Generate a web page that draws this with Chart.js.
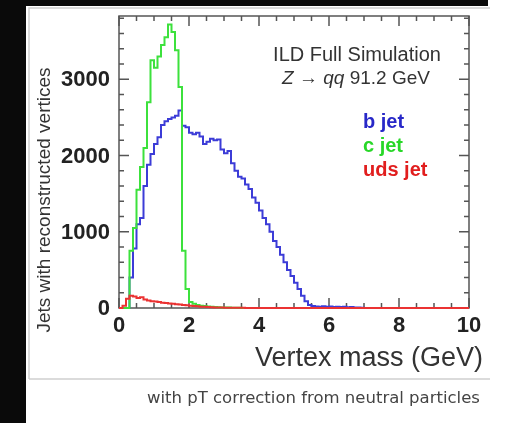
<!DOCTYPE html>
<html>
<head>
<meta charset="utf-8">
<script src="https://cdn.jsdelivr.net/npm/chart.js@4"></script>
<style>
  html, body { margin: 0; padding: 0; background: #fff; }
  #wrap { position: relative; width: 511px; height: 423px; }
</style>
</head>
<body>
<div id="wrap"><canvas id="myChart" width="511" height="423"></canvas></div>
<script>
// bin lower edges (GeV), 0.1 GeV wide, 0 to 10
const massBins = []
for (let i = 0; i < 100; i++) {
    massBins.push(i / 10)
}

const bJet = [
    0, 0, 0, 400, 780, 1100, 1180, 1600, 1880, 2020,
    2150, 2240, 2400, 2450, 2480, 2500, 2520, 2590, 2390, 2370,
    2300, 2280, 2300, 2250, 2150, 2180, 2220, 2200, 2210, 2080,
    2030, 2060, 1900, 1800, 1720, 1700, 1620, 1560, 1450, 1380,
    1280, 1180, 1100, 1000, 880, 800, 700, 600, 500, 420,
    330, 250, 160, 90, 40, 25, 20, 18, 22, 15,
    20, 14, 18, 12, 16, 10, 12, 8, 6, 3,
    0, 0, 0, 0, 0, 0, 0, 0, 0, 0,
    0, 0, 0, 0, 0, 0, 0, 0, 0, 0,
    0, 0, 0, 0, 0, 0, 0, 0, 0, 0
]

const cJet = [
    0, 0, 0, 750, 1050, 1550, 1850, 2100, 2700, 3250,
    3150, 3300, 3450, 3550, 3720, 3620, 3380, 2900, 750, 250,
    80, 55, 40, 30, 25, 20, 15, 12, 10, 8,
    6, 5, 4, 3, 2, 0, 0, 0, 0, 0,
    0, 0, 0, 0, 0, 0, 0, 0, 0, 0,
    0, 0, 0, 0, 0, 0, 0, 0, 0, 0,
    0, 0, 0, 0, 0, 0, 0, 0, 0, 0,
    0, 0, 0, 0, 0, 0, 0, 0, 0, 0,
    0, 0, 0, 0, 0, 0, 0, 0, 0, 0,
    0, 0, 0, 0, 0, 0, 0, 0, 0, 0
]

const udsJet = [
    0, 30, 120, 160, 150, 130, 140, 110, 100, 90,
    85, 80, 70, 65, 60, 55, 50, 45, 40, 35,
    30, 25, 22, 18, 15, 12, 10, 8, 6, 5,
    4, 3, 3, 2, 2, 2, 1, 1, 1, 1,
    0, 0, 0, 0, 0, 0, 0, 0, 0, 0,
    0, 0, 0, 0, 0, 0, 0, 0, 0, 0,
    0, 0, 0, 0, 0, 0, 0, 0, 0, 0,
    0, 0, 0, 0, 0, 0, 0, 0, 0, 0,
    0, 0, 0, 0, 0, 0, 0, 0, 0, 0,
    0, 0, 0, 0, 0, 0, 0, 0, 0, 0
]

const xTicks = [0, 2, 4, 6, 8, 10]
const yTicks = [0, 1000, 2000, 3000]
const xMinorStep = 0.5
const yMinorStep = 200

const legendNames = ['b jet', 'c jet', 'uds jet']
const colors = ['rgb(60, 60, 215)', 'rgb(60, 225, 60)', 'rgb(235, 50, 50)']
const legendColors = ['rgb(40, 40, 200)', 'rgb(40, 215, 40)', 'rgb(225, 30, 30)']

// histogram as step line: value at each lower edge, closed at x = 10
function histo(values) {
    const pts = massBins.map((x, i) => ({ x: x, y: values[i] }))
    pts.push({ x: 10, y: 0 })
    return pts
}

const FONT = '"Liberation Sans", Arial, sans-serif'

const data = {
    datasets: [
        { label: legendNames[0], data: histo(bJet), borderColor: colors[0], order: 2 },
        { label: legendNames[1], data: histo(cJet), borderColor: colors[1], order: 1 },
        { label: legendNames[2], data: histo(udsJet), borderColor: colors[2], order: 0 }
    ].map(d => Object.assign(d, {
        stepped: true,
        borderWidth: 2,
        pointRadius: 0,
        fill: false,
        clip: false
    }))
}

const pageBits = {
    id: 'page_bits',
    beforeDraw: (chart) => {
        const ctx = chart.ctx
        ctx.save()
        ctx.fillStyle = '#fff'
        ctx.fillRect(0, 0, chart.width, chart.height)
        ctx.fillStyle = 'rgb(10, 10, 10)'
        ctx.fillRect(0, 0, 26, chart.height)
        ctx.fillRect(0, 0, 488, 6)
        // thin grey box round the figure
        ctx.strokeStyle = '#cfcfcf'
        ctx.lineWidth = 1.5
        ctx.beginPath()
        ctx.moveTo(29, 379)
        ctx.lineTo(29, 8)
        ctx.lineTo(490, 8)
        ctx.moveTo(29, 379)
        ctx.lineTo(490, 379)
        ctx.stroke()
        ctx.restore()
    },
    beforeDatasetsDraw: (chart) => {
        const ctx = chart.ctx
        const { left, right, top, bottom } = chart.chartArea
        const xs = chart.scales.x
        const ys = chart.scales.y
        ctx.save()
        ctx.strokeStyle = '#555'
        ctx.lineWidth = 1.5
        ctx.strokeRect(left, top, right - left, bottom - top)
        ctx.beginPath()
        for (let v = 0; v <= 10.001; v += xMinorStep) {
            const px = xs.getPixelForValue(v)
            const len = xTicks.includes(Math.round(v * 10) / 10) ? 10 : 5
            ctx.moveTo(px, bottom); ctx.lineTo(px, bottom - len)
            ctx.moveTo(px, top); ctx.lineTo(px, top + len)
        }
        for (let v = 0; v <= ys.max; v += yMinorStep) {
            const py = ys.getPixelForValue(v)
            const len = yTicks.includes(v) ? 10 : 5
            ctx.moveTo(left, py); ctx.lineTo(left + len, py)
            ctx.moveTo(right, py); ctx.lineTo(right - len, py)
        }
        ctx.stroke()
        ctx.restore()
    },
    afterDraw: (chart) => {
        const ctx = chart.ctx
        const xs = chart.scales.x
        const ys = chart.scales.y
        ctx.save()
        ctx.fillStyle = '#222'
        ctx.font = 'bold 22px ' + FONT
        ctx.textAlign = 'center'
        ctx.textBaseline = 'middle'
        xTicks.forEach(v => ctx.fillText(String(v), xs.getPixelForValue(v), 326))
        ctx.textAlign = 'right'
        yTicks.forEach(v => ctx.fillText(String(v), 110, ys.getPixelForValue(v) + 1))

        // axis titles
        ctx.fillStyle = '#333'
        ctx.font = '27px ' + FONT
        ctx.textAlign = 'right'
        ctx.textBaseline = 'alphabetic'
        ctx.fillText('Vertex mass (GeV)', 483, 366)

        ctx.save()
        ctx.translate(50, 200)
        ctx.rotate(-Math.PI / 2)
        ctx.font = '19px ' + FONT
        ctx.textAlign = 'center'
        ctx.fillText('Jets with reconstructed vertices', 0, 0)
        ctx.restore()

        // header text
        ctx.fillStyle = '#333'
        ctx.font = '20px ' + FONT
        ctx.textAlign = 'center'
        ctx.textBaseline = 'middle'
        ctx.fillText('ILD Full Simulation', 357, 55)

        const parts = [
            ['Z', 'italic 19px '],
            [' \u2192 ', '19px '],
            ['qq', 'italic 19px '],
            [' 91.2 GeV', '19px ']
        ]
        let w = 0
        parts.forEach(p => { ctx.font = p[1] + FONT; w += ctx.measureText(p[0]).width })
        let px = 356 - w / 2
        ctx.textAlign = 'left'
        parts.forEach(p => {
            ctx.font = p[1] + FONT
            ctx.fillText(p[0], px, 79)
            px += ctx.measureText(p[0]).width
        })

        // legend
        ctx.font = 'bold 20px ' + FONT
        legendNames.forEach((name, i) => {
            ctx.fillStyle = legendColors[i]
            ctx.fillText(name, 363, 122 + i * 24)
        })

        // caption under the figure
        ctx.beginPath()
        ctx.rect(0, 380, 489, 43)
        ctx.clip()
        ctx.fillStyle = '#444'
        ctx.font = '16.5px "DejaVu Sans", sans-serif'
        ctx.textAlign = 'left'
        ctx.fillText('with pT correction from neutral particles', 147, 399)
        ctx.restore()
    }
}

const option = {
    responsive: false,
    animation: false,
    layout: {
        padding: { left: 119, top: 16, right: 42, bottom: 115 }
    },
    plugins: {
        legend: { display: false },
        tooltip: { enabled: false }
    },
    scales: {
        x: { type: 'linear', min: 0, max: 10, display: false },
        y: { type: 'linear', min: 0, max: 3830, display: false }
    }
}

const ctx = document.getElementById('myChart').getContext('2d')
const myChart = new Chart(ctx, {
    type: 'line',
    data: data,
    options: option,
    plugins: [pageBits]
})
</script>
</body>
</html>
